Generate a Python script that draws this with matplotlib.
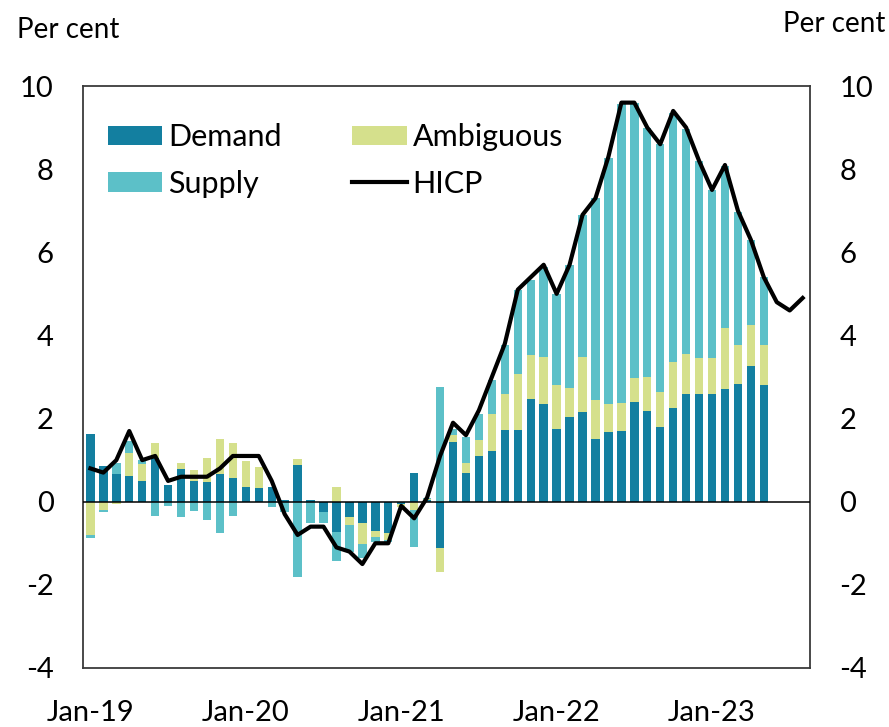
import matplotlib
matplotlib.use("Agg")
import matplotlib.pyplot as plt
import numpy as np

plt.rcParams['font.family'] = ['Lato', 'DejaVu Sans']
plt.rcParams['axes.unicode_minus'] = False

# ---- data (monthly, Jan-19 onward) ----
tick_labels = ["Jan-19", "Jan-20", "Jan-21", "Jan-22", "Jan-23"]

demand = [1.63, 0.86, 0.66, 0.62, 0.50, 1.05, 0.41, 0.78, 0.50, 0.48, 0.66, 0.58,
          0.36, 0.32, 0.36, 0.03, 0.88, 0.05, -0.24, -0.73, -0.36, -0.52, -0.70, -0.76,
          -0.05, 0.68, 0.03, -1.12, 1.44, 0.68, 1.10, 1.22, 1.72, 1.72, 2.46, 2.35,
          1.76, 2.03, 2.15, 1.52, 1.68, 1.71, 2.40, 2.18, 1.79, 2.26, 2.60, 2.60,
          2.60, 2.71, 2.84, 3.26, 2.80]

ambiguous = [-0.80, -0.20, -0.05, 0.56, 0.40, 0.36, 0.00, 0.15, 0.27, 0.56, 0.84, 0.82,
             0.62, 0.52, 0.00, 0.00, 0.14, 0.00, 0.00, 0.36, -0.20, -0.50, -0.14, -0.17,
             -0.07, -0.20, 0.03, -0.56, 0.16, 0.24, 0.38, 0.90, 0.88, 1.35, 1.07, 1.12,
             1.04, 0.70, 1.32, 0.92, 0.68, 0.66, 0.58, 0.81, 0.86, 1.10, 0.96, 0.86,
             0.86, 1.46, 0.92, 0.99, 0.96]

supply = [-0.07, -0.04, 0.28, 0.28, 0.10, -0.34, -0.10, -0.37, -0.22, -0.45, -0.75, -0.34,
          0.00, 0.00, -0.12, -0.24, -1.82, -0.52, -0.28, -0.70, -0.64, -0.34, -0.12, -0.05,
          0.00, -0.88, 0.04, 2.76, 0.15, 0.64, 0.64, 0.80, 1.16, 2.02, 1.80, 2.18,
          2.20, 2.97, 3.43, 4.86, 5.90, 7.20, 6.60, 6.00, 5.95, 6.00, 5.40, 4.74,
          4.04, 3.90, 3.20, 2.05, 1.64]

hicp = [0.8, 0.7, 1.0, 1.7, 1.0, 1.1, 0.5, 0.6, 0.6, 0.6, 0.8, 1.1,
        1.1, 1.1, 0.5, -0.3, -0.8, -0.6, -0.6, -1.1, -1.2, -1.5, -1.0, -1.0,
        -0.1, -0.4, 0.1, 1.1, 1.9, 1.6, 2.2, 3.0, 3.8, 5.1, 5.4, 5.7,
        5.0, 5.7, 6.9, 7.3, 8.3, 9.6, 9.6, 9.0, 8.6, 9.4, 9.0, 8.2,
        7.5, 8.1, 7.0, 6.3, 5.4, 4.8, 4.6, 4.9]

series = [("Demand", demand, "#137FA0"),
          ("Ambiguous", ambiguous, "#D5E08C"),
          ("Supply", supply, "#5CC0C8")]

# ---- figure ----
fig = plt.figure(figsize=(8.89, 7.27), dpi=100)
ax = fig.add_axes([0.0934, 0.0812, 0.8178, 0.8005])

xb = np.arange(len(demand))
xl = np.arange(len(hicp))
pos_base = np.zeros(len(demand))
neg_base = np.zeros(len(demand))
handles = {}
for name, vals, col in series:
    v = np.array(vals)
    bottom = np.where(v >= 0, pos_base, neg_base)
    h = ax.bar(xb, v, bottom=bottom, width=0.65, color=col, label=name, zorder=2, linewidth=0)
    handles[name] = h
    pos_base = pos_base + np.where(v >= 0, v, 0)
    neg_base = neg_base + np.where(v < 0, v, 0)

ax.axhline(0, color="black", lw=1.1, zorder=3)
line, = ax.plot(xl, hicp, color="black", lw=3.0, zorder=4, label="HICP")

ax.set_xlim(-0.57, 55.57)
ax.set_ylim(-4, 10)
ax.set_yticks(np.arange(-4, 11, 2))
ax.set_xticks([0, 12, 24, 36, 48])
ax.set_xticklabels(tick_labels)

ax.tick_params(axis="x", length=0, pad=23, labelsize=21)
ax.tick_params(axis="y", length=0, labelsize=21, left=True, right=True,
               labelleft=True, labelright=True, pad=21)

for sp in ax.spines.values():
    sp.set_color("#3a3a3a")
    sp.set_linewidth(1.3)

leg = ax.legend([handles["Demand"], handles["Supply"], handles["Ambiguous"], line],
                ["Demand", "Supply", "Ambiguous", "HICP"],
                ncol=2, frameon=False, loc="upper left", bbox_to_anchor=(0.034, 0.936),
                borderaxespad=0, borderpad=0, fontsize=22, handlelength=1.78,
                handleheight=0.6, handletextpad=0.2, columnspacing=2.3, labelspacing=0.6)

fig.text(17 / 889, 1 - 38 / 727, "Per cent", fontsize=20, ha="left", va="baseline")
fig.text(885 / 889, 1 - 32 / 727, "Per cent", fontsize=20, ha="right", va="baseline")

fig.savefig("out.png", dpi=100)
